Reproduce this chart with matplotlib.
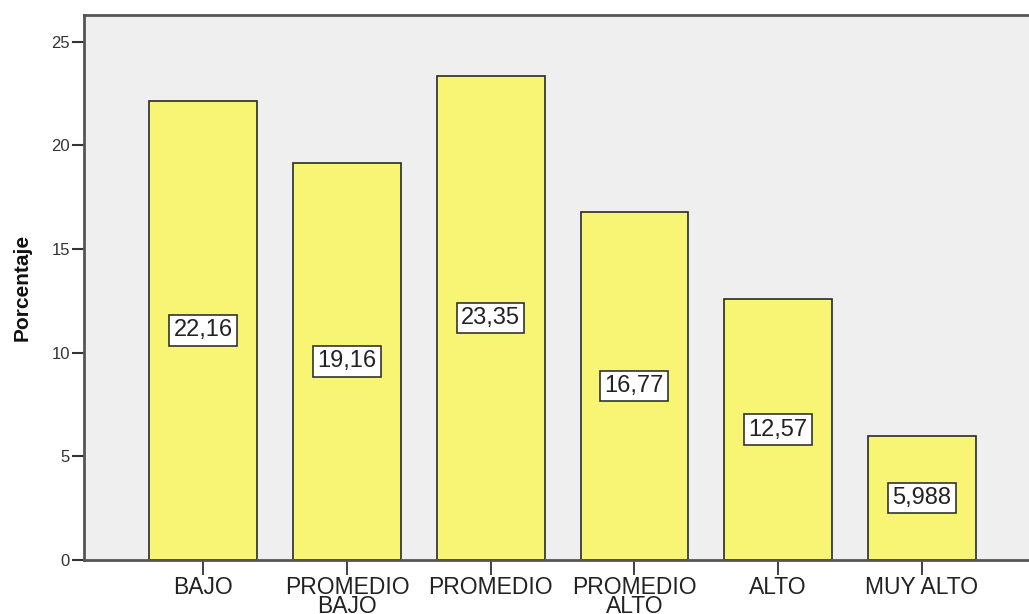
import matplotlib
matplotlib.use('Agg')
import matplotlib.pyplot as plt

plt.rcParams['font.family'] = ['Liberation Sans', 'DejaVu Sans']

categorias = ['BAJO', 'PROMEDIO\nBAJO', 'PROMEDIO', 'PROMEDIO\nALTO', 'ALTO', 'MUY ALTO']
porcentajes = [22.16, 19.16, 23.35, 16.77, 12.57, 5.988]
etiquetas = ['22,16', '19,16', '23,35', '16,77', '12,57', '5,988']

fig = plt.figure(figsize=(10.29, 6.14), dpi=100)
ax = fig.add_axes([0.0816, 0.088, 0.94, 0.888])
ax.set_facecolor('#efefef')

x = list(range(len(categorias)))
ax.bar(x, porcentajes, width=0.75, color='#f8f474', edgecolor='#2a2a2a', linewidth=1.2, zorder=2)

# etiqueta de valor en el centro de cada barra
for xi, v, t in zip(x, porcentajes, etiquetas):
    ax.text(xi, v / 2, t, ha='center', va='center', fontsize=17, color='#222222', zorder=3,
            bbox=dict(boxstyle='square,pad=0.18', facecolor='white', edgecolor='#333333', linewidth=1.2))

ax.set_xlim(-0.83, 5.9)
ax.set_ylim(0, 26.3)
ax.set_yticks([0, 5, 10, 15, 20, 25])
ax.set_xticks(x)
ax.set_xticklabels(categorias, fontsize=16.5, color='#222222', linespacing=0.78)
ax.tick_params(axis='y', labelsize=12, colors='#333333', length=9, width=1.5, direction='out', pad=1)
ax.tick_params(axis='x', length=11, width=1.3, color='#333333', pad=0.5)
ax.set_ylabel('Porcentaje', fontsize=15, fontweight='bold', color='#111111')
ax.yaxis.set_label_coords(-0.054, 0.5)

for s in ['left', 'bottom', 'top']:
    ax.spines[s].set_color('#555555')
    ax.spines[s].set_linewidth(2)
ax.spines['right'].set_visible(False)

fig.savefig('out.png', dpi=100)
